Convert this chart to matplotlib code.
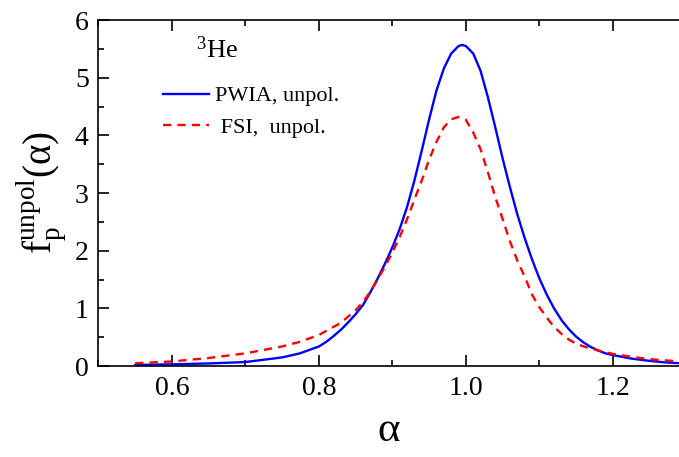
import matplotlib
matplotlib.use("Agg")
import matplotlib.pyplot as plt
from matplotlib.ticker import MultipleLocator

plt.rcParams['font.family'] = ['Liberation Serif', 'DejaVu Serif']
plt.rcParams['mathtext.fontset'] = 'custom'
plt.rcParams['mathtext.rm'] = 'Liberation Serif'
plt.rcParams['mathtext.it'] = 'Liberation Serif:italic'

pwia_x = [0.55, 0.60, 0.65, 0.70, 0.75, 0.774, 0.80, 0.81, 0.82, 0.83, 0.84, 0.85,
          0.86, 0.87, 0.88, 0.89, 0.90, 0.91, 0.92, 0.93, 0.94, 0.95, 0.96, 0.97,
          0.98, 0.99, 0.995, 1.00, 1.01, 1.02, 1.03, 1.04, 1.05, 1.06, 1.07, 1.08,
          1.09, 1.10, 1.11, 1.12, 1.13, 1.14, 1.15, 1.16, 1.17, 1.18, 1.19, 1.20,
          1.225, 1.25, 1.27, 1.29]
pwia_y = [0.02, 0.03, 0.045, 0.07, 0.15, 0.22, 0.34, 0.42, 0.52, 0.63, 0.76, 0.90,
          1.06, 1.28, 1.52, 1.78, 2.06, 2.38, 2.76, 3.22, 3.74, 4.28, 4.78, 5.16,
          5.42, 5.55, 5.57, 5.55, 5.42, 5.12, 4.66, 4.14, 3.60, 3.10, 2.63, 2.22,
          1.85, 1.52, 1.24, 1.00, 0.80, 0.64, 0.51, 0.41, 0.33, 0.27, 0.22, 0.19,
          0.13, 0.09, 0.065, 0.05]

fsi_x = [0.55, 0.60, 0.65, 0.70, 0.75, 0.774, 0.80, 0.83, 0.85, 0.86, 0.87, 0.88,
         0.89, 0.90, 0.91, 0.92, 0.93, 0.94, 0.95, 0.96, 0.97, 0.98, 0.99, 1.00,
         1.01, 1.02, 1.03, 1.04, 1.05, 1.06, 1.07, 1.08, 1.09, 1.10, 1.11, 1.12,
         1.13, 1.14, 1.15, 1.16, 1.18, 1.20, 1.225, 1.25, 1.27, 1.29]
fsi_y = [0.05, 0.08, 0.14, 0.22, 0.34, 0.42, 0.54, 0.75, 0.97, 1.11, 1.29, 1.50,
         1.73, 1.97, 2.24, 2.55, 2.89, 3.22, 3.58, 3.89, 4.14, 4.28, 4.32, 4.27,
         4.05, 3.76, 3.36, 2.93, 2.55, 2.16, 1.83, 1.55, 1.24, 1.02, 0.84, 0.68,
         0.56, 0.46, 0.39, 0.34, 0.27, 0.21, 0.16, 0.12, 0.10, 0.08]

fig = plt.figure(figsize=(6.79, 4.57), dpi=100)
ax = fig.add_axes([0.145, 0.199, 0.855, 0.757])

l1, = ax.plot(pwia_x, pwia_y, color='#0000ff', lw=1.7)
l2, = ax.plot(fsi_x, fsi_y, color='#ff0000', lw=1.7, ls=(0, (3.5, 2.6)))

ax.set_xlim(0.5, 1.29)
ax.set_ylim(0, 6)
ax.xaxis.set_minor_locator(MultipleLocator(0.1))
ax.yaxis.set_major_locator(MultipleLocator(1))
ax.yaxis.set_minor_locator(MultipleLocator(0.5))
ax.set_xticks([0.6, 0.8, 1.0, 1.2])
ax.set_xticklabels(['0.6', '0.8', '1.0', '1.2'])
ax.spines['right'].set_visible(False)
for s in ['left', 'bottom', 'top']:
    ax.spines[s].set_linewidth(1.2)
ax.tick_params(which='both', direction='in', top=True, right=False, width=1.2,
               labelsize=20)
ax.tick_params(which='major', length=8, pad=7)
ax.tick_params(which='minor', length=4.5)

ax.set_xlabel('α', fontsize=31, labelpad=8)
ax.set_ylabel(r'$\mathrm{f}_{\mathrm{p}}^{\mathrm{unpol}}\mathrm{(α)}$', fontsize=28,
              labelpad=4)

ax.text(0.168, 0.915, r'$^{3}$He', transform=ax.transAxes, fontsize=19,
        va='center', ha='left')
ax.legend([l1, l2], ['PWIA, unpol.', ' FSI,  unpol.'], loc='upper left',
          bbox_to_anchor=(0.076, 0.868), frameon=False, fontsize=16,
          handlelength=2.1, handletextpad=0.25, labelspacing=0.5)

fig.savefig('out.png', dpi=100)
